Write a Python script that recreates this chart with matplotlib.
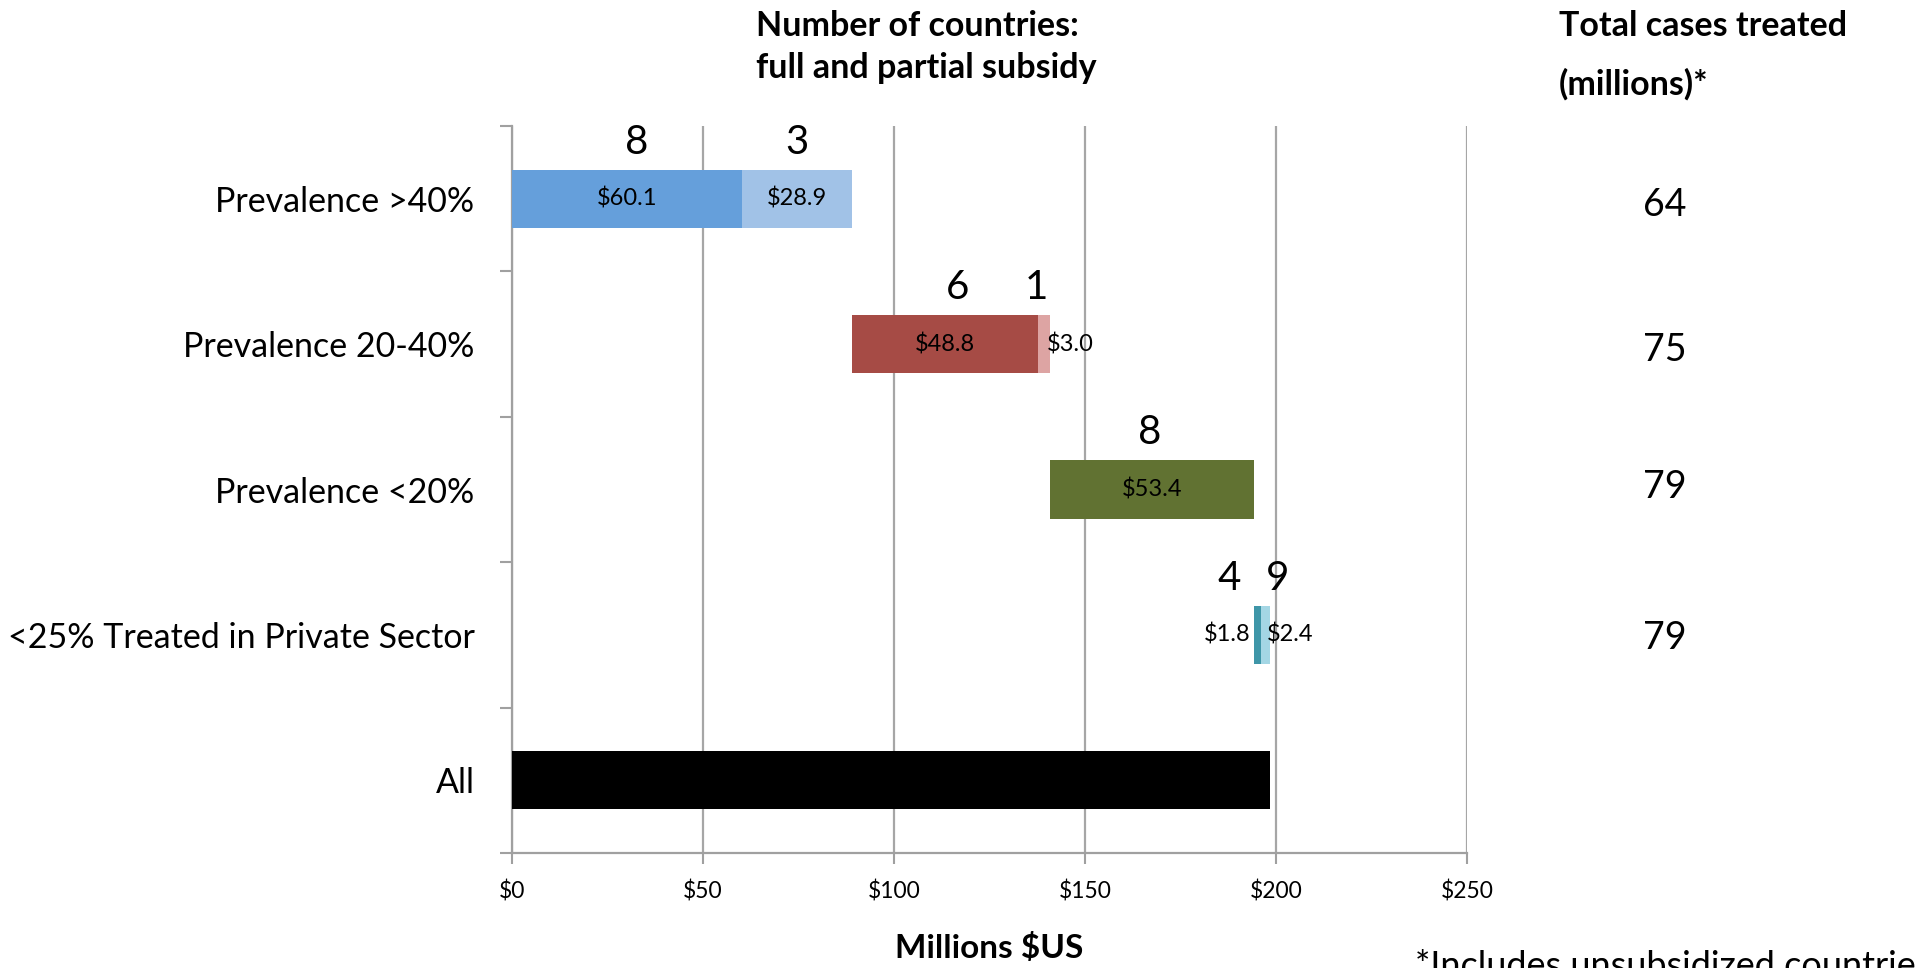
import matplotlib
matplotlib.use("Agg")
import matplotlib.pyplot as plt

plt.rcParams['font.family'] = ['Lato', 'DejaVu Sans']

# Categories, top to bottom
categories = ["Prevalence >40%", "Prevalence 20-40%", "Prevalence <20%",
              "<25% Treated in Private Sector", "All"]

# Subsidy cost in millions $US: full subsidy, partial subsidy
full_subsidy = [60.1, 48.8, 53.4, 1.8]
partial_subsidy = [28.9, 3.0, 0.0, 2.4]
all_total = 198.4

# Number of countries (full, partial) and where each count is written (x in $M)
country_counts = [["8", "3"], ["6", "1"], ["8"], ["4", "9"]]
count_x = [[32.6, 74.6], [116.5, 137.3], [166.8], [187.6, 200.4]]

# Total cases treated (millions)
cases_treated = ["64", "75", "79", "79"]

full_colors = ["#659fdb", "#a64b45", "#617232", "#3e96a8"]
partial_colors = ["#a1c2e7", "#dda4a3", "#617232", "#a4d6e4"]

x_ticks = [0, 50, 100, 150, 200, 250]
x_ticklabels = ["$0", "$50", "$100", "$150", "$200", "$250"]

fig = plt.figure(figsize=(19.17, 9.68), dpi=100)
ax = fig.add_axes([0.2671, 0.1188, 0.7653 - 0.2671, 0.8698 - 0.1188])

n = len(categories)
centers = [n - 0.5 - i for i in range(n)]
bar_h = 0.40

# Waterfall: each group starts where the previous one ended
start = 0.0
for i in range(4):
    y = centers[i]
    ax.barh(y, full_subsidy[i], left=start, height=bar_h,
            color=full_colors[i], zorder=3)
    if partial_subsidy[i] > 0:
        ax.barh(y, partial_subsidy[i], left=start + full_subsidy[i],
                height=bar_h, color=partial_colors[i], zorder=3)
    start += full_subsidy[i] + partial_subsidy[i]

ax.barh(centers[4], all_total, left=0, height=bar_h, color="black", zorder=3)

# Value labels on the segments
lab_fs = 17
s = 0.0
for i in range(4):
    y = centers[i]
    f, p = full_subsidy[i], partial_subsidy[i]
    if i == 3:
        ax.text(s - 0.8, y, f"${f:.1f}", ha="right", va="center",
                fontsize=lab_fs, zorder=4)
    else:
        ax.text(s + f / 2, y, f"${f:.1f}", ha="center", va="center",
                fontsize=lab_fs, zorder=4)
    if p > 0:
        if i == 0:
            ax.text(s + f + p / 2, y, f"${p:.1f}", ha="center", va="center",
                    fontsize=lab_fs, zorder=4)
        else:
            ax.text(s + f + p - 0.8, y, f"${p:.1f}", ha="left", va="center",
                    fontsize=lab_fs, zorder=4)
    s += f + p

# Country counts above the bars
for i in range(4):
    for txt, xv in zip(country_counts[i], count_x[i]):
        ax.text(xv, centers[i] + 0.39, txt, ha="center", va="center",
                fontsize=29, zorder=4)

ax.set_xlim(0, 250)
ax.set_ylim(0, n)

ax.set_xticks(x_ticks)
ax.set_xticklabels(x_ticklabels, fontsize=16.5)
ax.tick_params(axis="x", length=8, width=1.5, color="#a0a0a0", pad=12)
ax.xaxis.grid(True, color="#a6a6a6", linewidth=1.6, zorder=0)

ax.set_yticks(range(n + 1))
ax.set_yticklabels([])
ax.set_yticks(centers, minor=True)
ax.set_yticklabels(categories, minor=True, fontsize=24.5)
ax.tick_params(axis="y", which="major", length=9, width=1.5, color="#a0a0a0")
ax.tick_params(axis="y", which="minor", length=0, pad=27)

for side in ("top", "right"):
    ax.spines[side].set_visible(False)
for side in ("left", "bottom"):
    ax.spines[side].set_color("#a0a0a0")
    ax.spines[side].set_linewidth(1.6)

ax.set_xlabel("Millions $US", fontsize=24, fontweight="bold", labelpad=22)

# Right-hand column: total cases treated
case_y = [205, 350, 487, 638]
for txt, py in zip(cases_treated, case_y):
    fig.text(1665 / 1917, 1 - py / 968, txt, ha="center", va="center",
             fontsize=27)

fig.text(756 / 1917, 1 - 26 / 968, "Number of countries:", ha="left",
         va="center", fontsize=24.5, fontweight="bold")
fig.text(756 / 1917, 1 - 68 / 968, "full and partial subsidy", ha="left",
         va="center", fontsize=24.5, fontweight="bold")
fig.text(1559 / 1917, 1 - 26 / 968, "Total cases treated", ha="left",
         va="center", fontsize=24.5, fontweight="bold")
fig.text(1559 / 1917, 1 - 84 / 968, "(millions)*", ha="left",
         va="center", fontsize=24.5, fontweight="bold")

fig.text(1415 / 1917, 1 - 950 / 968, "*Includes unsubsidized countries",
         ha="left", va="top", fontsize=26)

fig.savefig("out.png", dpi=100)
